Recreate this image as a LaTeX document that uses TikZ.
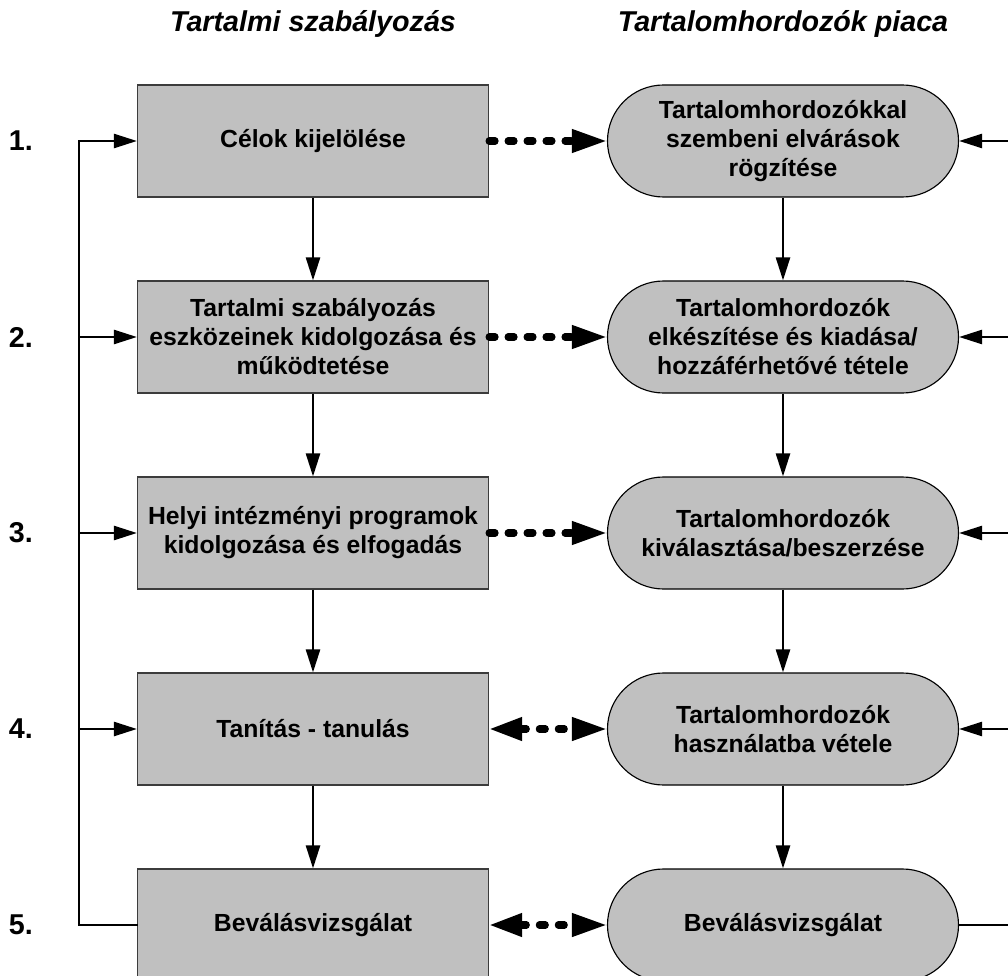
\documentclass[tikz,border=0pt]{standalone}
\usepackage{fontspec}
\setmainfont{Liberation Sans}
\usetikzlibrary{arrows.meta}
\definecolor{boxgray}{RGB}{192,192,192}
\definecolor{edgegray}{RGB}{60,60,60}

\begin{document}
\begin{tikzpicture}[semithick,
            font=\fontsize{17.6pt}{20.6pt}\selectfont\bfseries,
            box/.style ={rectangle, fill=boxgray, draw=edgegray, line width=0.8pt,
            align=center, minimum width=8.775cm, minimum height=2.8cm, inner sep=0pt},
            pill/.style ={box, rounded corners=1.4cm, draw=black},
            flow/.style ={line width=1.7pt, -{Triangle[length=0.575cm, width=0.35cm]}},
            link/.style ={line width=5pt, line cap=round, dash pattern=on 4.3pt off 9.2pt,
            -{Triangle[length=0.875cm, width=0.55cm]}},
            twoway/.style ={link, {Triangle[length=0.825cm, width=0.55cm]}-{Triangle[length=0.875cm, width=0.55cm]}},
            head/.style ={font=\fontsize{20.4pt}{24pt}\selectfont\bfseries\itshape},
            num/.style ={font=\fontsize{20.4pt}{24pt}\selectfont\bfseries}]

        \useasboundingbox (0,0) rectangle (25.2,-24.4);

        %cimsor
        \node[head] (HL) at (7.825, -0.6) {Tartalmi szabályozás};
        \node[head] (HR) at (19.575, -0.6) {Tartalomhordozók piaca};

        %sorszamok
        \node[num] (N1) at (0.52, -3.525) {1.};
        \node[num] (N2) at (0.52, -8.425) {2.};
        \node[num] (N3) at (0.52, -13.325) {3.};
        \node[num] (N4) at (0.52, -18.225) {4.};
        \node[num] (N5) at (0.52, -23.125) {5.};

        %bal oszlop
        \node[box] (L1) at (7.825, -3.525) {Célok kijelölése};
        \node[box] (L2) at (7.825, -8.425) {Tartalmi szabályozás\\eszközeinek kidolgozása és\\működtetése};
        \node[box] (L3) at (7.825, -13.325) {Helyi intézményi programok\\kidolgozása és elfogadás};
        \node[box] (L4) at (7.825, -18.225) {Tanítás - tanulás};
        \node[box] (L5) at (7.825, -23.125) {Beválásvizsgálat};

        %jobb oszlop
        \node[pill] (R1) at (19.575, -3.525) {Tartalomhordozókkal\\szembeni elvárások\\rögzítése};
        \node[pill] (R2) at (19.575, -8.425) {Tartalomhordozók\\elkészítése és kiadása/\\hozzáférhetővé tétele};
        \node[pill] (R3) at (19.575, -13.325) {Tartalomhordozók\\kiválasztása/beszerzése};
        \node[pill] (R4) at (19.575, -18.225) {Tartalomhordozók\\használatba vétele};
        \node[pill] (R5) at (19.575, -23.125) {Beválásvizsgálat};

        %visszacsatolas pontjai
        \coordinate (J5) at (1.975, -23.125);
        \coordinate (J2) at (1.975, -8.425);
        \coordinate (J3) at (1.975, -13.325);
        \coordinate (J4) at (1.975, -18.225);
        \coordinate (E1) at (25.2, -3.525);
        \coordinate (E2) at (25.2, -8.425);
        \coordinate (E3) at (25.2, -13.325);
        \coordinate (E4) at (25.2, -18.225);
        \coordinate (E5) at (25.2, -23.125);

        \path (L1) edge [flow] (L2);
        \path (L2) edge [flow] (L3);
        \path (L3) edge [flow] (L4);
        \path (L4) edge [flow] (L5);

        \path (R1) edge [flow] (R2);
        \path (R2) edge [flow] (R3);
        \path (R3) edge [flow] (R4);
        \path (R4) edge [flow] (R5);

        \path (L1) edge [link] (R1);
        \path (L2) edge [link] (R2);
        \path (L3) edge [link] (R3);
        \path (L4) edge [twoway] (R4);
        \path (L5) edge [twoway] (R5);

        \draw[flow, line cap=rect] (L5.west) -- (J5) |- (L1.west);
        \path (J2) edge [flow] (L2);
        \path (J3) edge [flow] (L3);
        \path (J4) edge [flow] (L4);

        \path (E1) edge [flow] (R1);
        \path (E2) edge [flow] (R2);
        \path (E3) edge [flow] (R3);
        \path (E4) edge [flow] (R4);
        \draw[line width=1.7pt] (R5) -- (E5);

    \end{tikzpicture}
\end{document}
